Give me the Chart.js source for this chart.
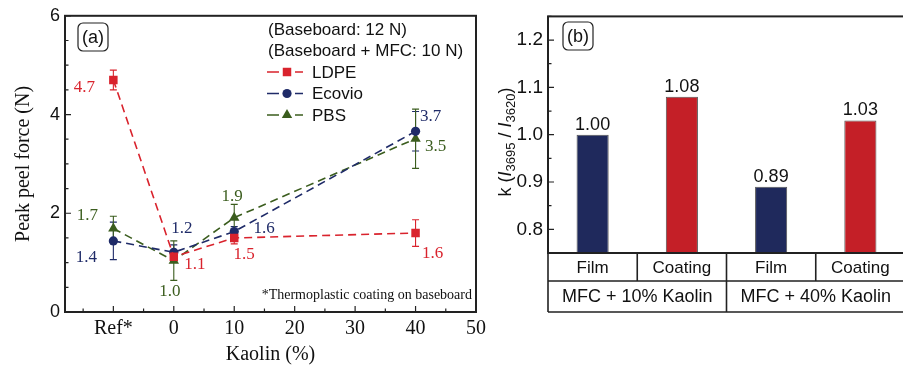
<!DOCTYPE html>
<html>
<head>
<meta charset="utf-8">
<script src="https://cdn.jsdelivr.net/npm/chart.js@4.4.1/dist/chart.umd.min.js"></script>
<style>
html, body { margin: 0; padding: 0; background: #fff; overflow: hidden; width: 903px; height: 367px; }
#panelA { position: absolute; left: 0; top: 0; }
#panelB { position: absolute; left: 495px; top: 0; }
</style>
</head>
<body>
<div id="panelA"><canvas id="peelChart" width="495" height="367"></canvas></div>
<div id="panelB"><canvas id="ratioChart" width="412" height="367"></canvas></div>
<script>
// ---- panel (a): peak peel force ----
const kaolinLevels = ['Ref*', 0, 10, 40];
const refPosition = -10;                  // where "Ref*" sits on the kaolin axis
const ldpeForce   = [4.70, 1.12, 1.50, 1.60];
const ldpeErr     = [0.20, 0.10, 0.12, 0.27];
const ecovioForce = [1.44, 1.21, 1.63, 3.66];
const ecovioErr   = [0.38, 0.15, 0.10, 0.40];
const pbsForce    = [1.69, 1.04, 1.91, 3.51];
const pbsErr      = [0.25, 0.40, 0.27, 0.60];
const kaolinTicks = [-10, 0, 10, 20, 30, 40, 50];
const forceTicks  = [0, 2, 4, 6];
const legendNotes = ['(Baseboard: 12 N)', '(Baseboard + MFC: 10 N)'];
const footnote    = '*Thermoplastic coating on baseboard';

// ---- panel (b): k ratio ----
const sampleTypes  = ['Film', 'Coating', 'Film', 'Coating'];
const sampleGroups = ['MFC + 10% Kaolin', 'MFC + 40% Kaolin'];
const kRatio       = [1.00, 1.08, 0.89, 1.03];
const kTicks       = [0.8, 0.9, 1.0, 1.1, 1.2];

const SANS = "'Liberation Sans', Arial, sans-serif";
const SERIF = "'Liberation Serif', 'Times New Roman', serif";
const RED = '#d9232d', NAVY = '#1f2b68', GREEN = '#3b5d1e';
const BAR_NAVY = '#1f295c', BAR_RED = '#c41f27';
const FRAME = '#222';

const kaolinX = kaolinLevels.map(k => k === 'Ref*' ? refPosition : k);

function drawMarker(ctx, style, x, y, r, color) {
  ctx.save();
  ctx.fillStyle = color;
  ctx.beginPath();
  if (style === 'rect') {
    const s = r * Math.SQRT1_2;
    ctx.rect(x - s, y - s, 2 * s, 2 * s);
  } else if (style === 'triangle') {
    ctx.moveTo(x, y - r);
    ctx.lineTo(x + r * 0.866, y + r * 0.5);
    ctx.lineTo(x - r * 0.866, y + r * 0.5);
    ctx.closePath();
  } else {
    ctx.arc(x, y, r, 0, Math.PI * 2);
  }
  ctx.fill();
  ctx.restore();
}

function roundBox(ctx, x, y, w, h, r, text) {
  ctx.save();
  ctx.strokeStyle = FRAME;
  ctx.lineWidth = 1.2;
  ctx.beginPath();
  ctx.roundRect(x, y, w, h, r);
  ctx.stroke();
  ctx.fillStyle = '#111';
  ctx.font = '18px ' + SANS;
  ctx.textAlign = 'center';
  ctx.textBaseline = 'middle';
  ctx.fillText(text, x + w / 2, y + h / 2 + 1);
  ctx.restore();
}

// frame round the plot area and inward ticks (major + minor)
function frameTicks(opts) {
  return {
    id: 'frameTicks',
    afterDatasetsDraw(chart) {
      const { ctx, chartArea: a, scales } = chart;
      ctx.save();
      ctx.strokeStyle = FRAME;
      ctx.lineWidth = 1.2;
      ctx.beginPath();
      (opts.xMajor || []).forEach(v => { const p = scales.x.getPixelForValue(v); ctx.moveTo(p, a.bottom); ctx.lineTo(p, a.bottom - 6); });
      (opts.xMinor || []).forEach(v => { const p = scales.x.getPixelForValue(v); ctx.moveTo(p, a.bottom); ctx.lineTo(p, a.bottom - 3.5); });
      (opts.yMajor || []).forEach(v => { const p = scales.y.getPixelForValue(v); ctx.moveTo(a.left, p); ctx.lineTo(a.left + 6, p); });
      (opts.yMinor || []).forEach(v => { const p = scales.y.getPixelForValue(v); ctx.moveTo(a.left, p); ctx.lineTo(a.left + 3.5, p); });
      ctx.stroke();
      ctx.lineWidth = 2;
      ctx.strokeRect(a.left, a.top, a.right - a.left, a.bottom - a.top);
      ctx.restore();
    }
  };
}

function series(label, values, errors, color, style, radius, offsets) {
  return {
    label,
    data: values.map((v, i) => ({ x: kaolinX[i], y: v })),
    errors, offsets, markerStyle: style,
    borderColor: color,
    backgroundColor: color,
    borderWidth: 1.6,
    borderDash: [8, 5],
    pointStyle: style,
    pointRadius: radius,
    pointHoverRadius: radius,
    pointBorderWidth: 0,
    tension: 0
  };
}

const errorBars = {
  id: 'errorBars',
  beforeDatasetsDraw(chart) {
    const { ctx, scales: { x, y } } = chart;
    ctx.save();
    ctx.lineWidth = 1.1;
    chart.data.datasets.forEach(ds => {
      ctx.strokeStyle = ds.borderColor;
      ds.data.forEach((pt, i) => {
        const px = x.getPixelForValue(pt.x);
        const top = y.getPixelForValue(pt.y + ds.errors[i]);
        const bot = y.getPixelForValue(pt.y - ds.errors[i]);
        ctx.beginPath();
        ctx.moveTo(px, top); ctx.lineTo(px, bot);
        ctx.moveTo(px - 3.5, top); ctx.lineTo(px + 3.5, top);
        ctx.moveTo(px - 3.5, bot); ctx.lineTo(px + 3.5, bot);
        ctx.stroke();
      });
    });
    ctx.restore();
  }
};

const pointLabels = {
  id: 'pointLabels',
  afterDatasetsDraw(chart) {
    const { ctx, scales: { x, y } } = chart;
    ctx.save();
    ctx.font = '17px ' + SERIF;
    ctx.textAlign = 'center';
    ctx.textBaseline = 'middle';
    chart.data.datasets.forEach(ds => {
      ctx.fillStyle = ds.borderColor;
      ds.data.forEach((pt, i) => {
        const [dx, dy] = ds.offsets[i];
        ctx.fillText(pt.y.toFixed(1), x.getPixelForValue(pt.x) + dx, y.getPixelForValue(pt.y) + dy);
      });
    });
    ctx.restore();
  }
};

const peelDecor = {
  id: 'peelDecor',
  afterDraw(chart) {
    const { ctx, chartArea: a } = chart;
    roundBox(ctx, 78, 23, 30, 28, 5, '(a)');
    ctx.save();
    ctx.font = '17px ' + SANS;
    ctx.fillStyle = '#111';
    ctx.textBaseline = 'middle';
    ctx.textAlign = 'left';
    legendNotes.forEach((t, i) => ctx.fillText(t, 268, 30 + i * 21));
    chart.data.datasets.forEach((ds, i) => {
      const yy = 72 + i * 21.5;
      ctx.strokeStyle = ds.borderColor;
      ctx.lineWidth = 1.6;
      ctx.beginPath();
      ctx.moveTo(267, yy); ctx.lineTo(279, yy);
      ctx.moveTo(295, yy); ctx.lineTo(303, yy);
      ctx.stroke();
      drawMarker(ctx, ds.markerStyle, 287, yy, ds.pointRadius, ds.borderColor);
      ctx.fillStyle = '#111';
      ctx.fillText(ds.label, 312, yy + 1);
    });
    ctx.font = '14px ' + SERIF;
    ctx.textAlign = 'right';
    ctx.fillText(footnote, a.right - 4, 295);
    ctx.restore();
  }
};

new Chart(document.getElementById('peelChart'), {
  type: 'line',
  data: {
    datasets: [
      series('LDPE', ldpeForce, ldpeErr, RED, 'rect', 6, [[-29, 8], [21, 8], [10, 17], [17, 21]]),
      series('Ecovio', ecovioForce, ecovioErr, NAVY, 'circle', 4.6, [[-27, 17], [8, -24], [30, -3], [15, -15]]),
      series('PBS', pbsForce, pbsErr, GREEN, 'triangle', 6, [[-26, -13], [-4, 31], [-2, -21], [20, 8]])
    ]
  },
  options: {
    responsive: false,
    animation: false,
    layout: { padding: { top: 15, right: 19, left: 0, bottom: 0 } },
    plugins: { legend: { display: false }, tooltip: { enabled: false } },
    scales: {
      x: {
        type: 'linear',
        min: -18,
        max: 50,
        afterBuildTicks: s => { s.ticks = kaolinTicks.map(v => ({ value: v })); },
        afterFit: s => { s.height = 55; },
        grid: { display: false, drawTicks: false },
        border: { display: false },
        ticks: {
          color: '#111',
          padding: 5,
          font: { family: SERIF, size: 20 },
          callback: v => v === refPosition ? 'Ref*' : v
        },
        title: { display: true, text: 'Kaolin (%)', color: '#111', font: { family: SERIF, size: 20 }, padding: { top: 0, bottom: 0 } }
      },
      y: {
        min: 0,
        max: 6,
        afterBuildTicks: s => { s.ticks = forceTicks.map(v => ({ value: v })); },
        afterFit: s => { s.width = 65; },
        grid: { display: false, drawTicks: false },
        border: { display: false },
        ticks: { color: '#111', padding: 5, font: { family: SANS, size: 18 } },
        title: { display: true, text: 'Peak peel force (N)', color: '#111', font: { family: SERIF, size: 20 }, padding: { top: 12, bottom: 0 } }
      }
    }
  },
  plugins: [
    errorBars,
    pointLabels,
    frameTicks({
      xMajor: kaolinTicks,
      xMinor: [-15, -5, 5, 15, 25, 35, 45],
      yMajor: forceTicks,
      yMinor: [0.5, 1, 1.5, 2.5, 3, 3.5, 4.5, 5, 5.5]
    }),
    peelDecor
  ]
});

// ---- panel (b) ----
const barValueLabels = {
  id: 'barValueLabels',
  afterDatasetsDraw(chart) {
    const { ctx } = chart;
    const meta = chart.getDatasetMeta(0);
    ctx.save();
    ctx.font = '18px ' + SANS;
    ctx.fillStyle = '#111';
    ctx.textAlign = 'center';
    ctx.textBaseline = 'bottom';
    meta.data.forEach((bar, i) => ctx.fillText(kRatio[i].toFixed(2), bar.x, bar.y - 1));
    ctx.restore();
  }
};

const sampleTable = {
  id: 'sampleTable',
  afterDraw(chart) {
    const { ctx, chartArea: a, scales: { x } } = chart;
    const row1 = a.bottom + 28, row2 = a.bottom + 59;
    const half = (x.getPixelForValue(1) - x.getPixelForValue(0)) / 2;
    ctx.save();
    ctx.strokeStyle = FRAME;
    ctx.lineWidth = 1.6;
    ctx.beginPath();
    [a.bottom, row1, row2].forEach(yy => { ctx.moveTo(a.left, yy); ctx.lineTo(a.right, yy); });
    ctx.moveTo(a.left, a.top); ctx.lineTo(a.left, row2);
    sampleTypes.forEach((t, i) => {
      const xr = x.getPixelForValue(i) + half;
      ctx.moveTo(xr, a.bottom);
      ctx.lineTo(xr, i % 2 ? row2 : row1);
    });
    ctx.stroke();
    ctx.fillStyle = '#111';
    ctx.textAlign = 'center';
    ctx.textBaseline = 'middle';
    ctx.font = '17px ' + SANS;
    sampleTypes.forEach((t, i) => ctx.fillText(t, x.getPixelForValue(i), a.bottom + 15));
    ctx.font = '18px ' + SANS;
    sampleGroups.forEach((g, j) => {
      const cx = (x.getPixelForValue(2 * j) + x.getPixelForValue(2 * j + 1)) / 2;
      ctx.fillText(g, cx, row1 + 16);
    });
    ctx.restore();
  }
};

const ratioDecor = {
  id: 'ratioDecor',
  afterDraw(chart) {
    const { ctx } = chart;
    roundBox(ctx, 68, 22, 30, 28, 5, '(b)');
    // y-axis title with italic I and subscripts
    const parts = [
      { text: 'k (', font: '18px ' + SANS, dy: 0 },
      { text: 'I', font: 'italic 18px ' + SANS, dy: 0 },
      { text: '3695', font: '13px ' + SANS, dy: 5 },
      { text: ' / ', font: '18px ' + SANS, dy: 0 },
      { text: 'I', font: 'italic 18px ' + SANS, dy: 0 },
      { text: '3620', font: '13px ' + SANS, dy: 5 },
      { text: ')', font: '18px ' + SANS, dy: 0 }
    ];
    ctx.save();
    ctx.translate(11, 142);
    ctx.rotate(-Math.PI / 2);
    let total = 0;
    parts.forEach(p => { ctx.font = p.font; p.w = ctx.measureText(p.text).width; total += p.w; });
    let xx = -total / 2;
    ctx.fillStyle = '#111';
    ctx.textBaseline = 'middle';
    ctx.textAlign = 'left';
    parts.forEach(p => { ctx.font = p.font; ctx.fillText(p.text, xx, p.dy); xx += p.w; });
    ctx.restore();
  }
};

new Chart(document.getElementById('ratioChart'), {
  type: 'bar',
  data: {
    labels: sampleTypes,
    datasets: [{
      data: kRatio,
      backgroundColor: sampleTypes.map(t => t === 'Film' ? BAR_NAVY : BAR_RED),
      borderColor: '#555',
      borderWidth: 1,
      barPercentage: 0.36,
      categoryPercentage: 1
    }]
  },
  options: {
    responsive: false,
    animation: false,
    layout: { padding: { top: 14, right: 2, left: 0, bottom: 0 } },
    plugins: { legend: { display: false }, tooltip: { enabled: false } },
    scales: {
      x: {
        afterFit: s => { s.height = 114; },
        grid: { display: false, drawTicks: false },
        border: { display: false },
        ticks: { display: false }
      },
      y: {
        min: 0.75,
        max: 1.25,
        afterBuildTicks: s => { s.ticks = kTicks.map(v => ({ value: v })); },
        afterFit: s => { s.width = 53; },
        grid: { display: false, drawTicks: false },
        border: { display: false },
        ticks: { color: '#111', padding: 5, font: { family: SANS, size: 19 }, callback: v => v.toFixed(1) }
      }
    }
  },
  plugins: [
    barValueLabels,
    frameTicks({
      yMajor: kTicks,
      yMinor: [0.75, 0.85, 0.95, 1.05, 1.15, 1.25]
    }),
    sampleTable,
    ratioDecor
  ]
});
</script>
</body>
</html>
